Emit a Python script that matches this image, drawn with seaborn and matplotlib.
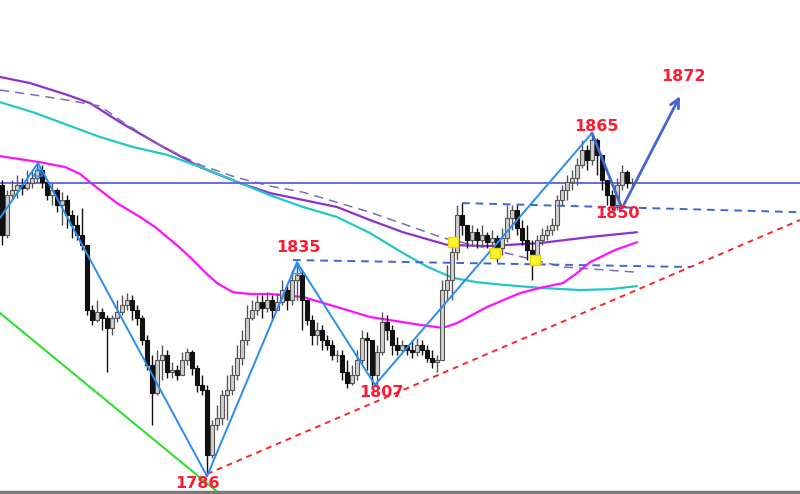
import numpy as np
import pandas as pd
import seaborn as sns
import matplotlib
matplotlib.use("Agg")
import matplotlib.pyplot as plt

# candle data (price), one candle per bar
first_open = 1853.0
closes = [1841.4, 1850.6, 1851.8, 1852.9, 1852.3, 1853.4, 1854.6, 1856.4, 1853.6, 1850.6,
          1851.8, 1848.3, 1849.5, 1846.0, 1843.8, 1841.4, 1839.2, 1824.2, 1821.9, 1823.7,
          1822.4, 1820.1, 1822.4, 1823.7, 1825.4, 1826.5, 1824.2, 1822.4, 1817.3, 1811.5,
          1805.1, 1812.7, 1813.8, 1809.9, 1810.4, 1809.3, 1812.7, 1814.5, 1810.9, 1807.0,
          1805.8, 1790.8, 1797.8, 1799.4, 1804.7, 1805.8, 1809.3, 1813.2, 1817.3, 1822.4,
          1824.2, 1826.0, 1824.7, 1826.5, 1824.2, 1826.0, 1828.8, 1826.5, 1831.1, 1832.3,
          1826.5, 1821.9, 1818.5, 1819.6, 1817.3, 1816.2, 1813.9, 1813.9, 1809.9, 1807.4,
          1809.3, 1812.7, 1817.8, 1817.3, 1809.3, 1814.5, 1821.4, 1819.6, 1816.2, 1815.0,
          1816.2, 1815.0, 1814.5, 1816.2, 1815.0, 1813.2, 1812.2, 1812.7, 1828.8, 1831.1,
          1837.5, 1846.0, 1843.8, 1840.3, 1842.1, 1840.3, 1841.4, 1839.8, 1840.8, 1838.5,
          1840.8, 1845.4, 1847.2, 1843.1, 1840.3, 1838.0, 1836.9, 1840.3, 1841.4, 1842.6,
          1843.8, 1849.5, 1851.8, 1853.6, 1854.6, 1857.5, 1861.0, 1858.7, 1863.3, 1859.9,
          1854.1, 1850.6, 1848.3, 1852.9, 1855.9, 1853.4, 1853.6]
highs = [1854.1, 1851.8, 1854.1, 1855.2, 1854.6, 1856.4, 1856.4, 1858.0, 1857.5, 1854.1,
         1853.4, 1852.3, 1851.3, 1850.6, 1847.2, 1846.0, 1847.7, 1839.1, 1825.4, 1826.5,
         1824.7, 1823.1, 1823.1, 1826.5, 1827.7, 1828.1, 1827.7, 1825.4, 1823.1, 1818.5,
         1813.9, 1815.0, 1816.2, 1815.0, 1812.2, 1811.5, 1814.5, 1815.5, 1815.0, 1811.5,
         1809.3, 1807.0, 1798.9, 1802.4, 1805.8, 1809.3, 1811.5, 1816.2, 1819.6, 1825.4,
         1826.5, 1827.7, 1827.7, 1828.3, 1827.7, 1828.1, 1831.1, 1829.9, 1833.4, 1835.2,
         1833.4, 1825.4, 1823.1, 1821.4, 1820.7, 1818.5, 1817.3, 1815.0, 1815.0, 1812.7,
         1811.5, 1815.0, 1819.6, 1819.1, 1817.3, 1816.2, 1823.7, 1823.1, 1820.7, 1818.0,
         1817.3, 1816.2, 1817.3, 1817.8, 1817.3, 1816.2, 1815.0, 1813.9, 1831.1, 1834.6,
         1840.3, 1848.3, 1848.8, 1843.8, 1843.8, 1843.1, 1843.8, 1842.1, 1842.6, 1841.4,
         1843.1, 1848.3, 1848.3, 1848.3, 1844.9, 1843.8, 1840.3, 1841.4, 1843.1, 1843.8,
         1845.4, 1850.6, 1853.0, 1855.3, 1856.4, 1859.2, 1863.3, 1862.1, 1864.4, 1863.8,
         1859.2, 1854.1, 1851.8, 1854.6, 1857.5, 1856.4, 1854.6]
lows = [1839.2, 1840.8, 1849.5, 1849.9, 1850.7, 1851.8, 1852.3, 1853.6, 1852.3, 1849.5,
        1848.3, 1846.7, 1843.8, 1843.1, 1840.8, 1840.3, 1838.0, 1823.1, 1820.7, 1821.4,
        1819.6, 1809.9, 1818.5, 1821.4, 1823.1, 1824.2, 1821.9, 1820.7, 1816.2, 1810.4,
        1797.8, 1804.7, 1808.1, 1808.6, 1808.6, 1808.1, 1809.3, 1811.5, 1809.3, 1805.3,
        1804.7, 1786.0, 1790.2, 1796.6, 1797.8, 1798.9, 1804.7, 1808.1, 1811.5, 1816.2,
        1821.9, 1823.1, 1822.4, 1823.7, 1821.9, 1824.2, 1825.4, 1824.2, 1825.4, 1826.5,
        1819.6, 1820.7, 1816.2, 1816.2, 1815.0, 1815.0, 1812.7, 1812.2, 1808.1, 1806.3,
        1807.0, 1808.1, 1811.5, 1810.4, 1807.0, 1806.5, 1813.9, 1817.3, 1813.9, 1813.9,
        1814.5, 1813.9, 1813.2, 1813.6, 1813.9, 1812.2, 1810.9, 1809.9, 1813.2, 1826.5,
        1826.5, 1835.7, 1841.4, 1838.5, 1839.1, 1838.5, 1839.1, 1838.5, 1838.9, 1835.2,
        1836.9, 1839.8, 1842.6, 1841.4, 1839.2, 1835.7, 1831.1, 1834.6, 1839.2, 1840.3,
        1841.4, 1842.6, 1848.3, 1849.5, 1851.8, 1852.9, 1856.9, 1856.4, 1857.5, 1855.2,
        1851.8, 1848.3, 1847.2, 1847.2, 1851.8, 1852.3, 1852.7]

# moving averages (bar index, price)
ma_purple_x = [-0.4, 5.6, 13, 17.6, 23.6, 31.6, 39.6, 47.6, 53.6, 67, 73.6, 80.2, 89, 97, 107.6, 117.6, 127]
ma_purple_y = [1877.8, 1876.4, 1873.7, 1871.8, 1867.4, 1862.1, 1857.1, 1853.4, 1851.1, 1847.9,
               1844.9, 1842.1, 1839.2, 1838.9, 1839.6, 1841.0, 1842.1]
ma_dash_x = [-0.4, 6.2, 13, 19.6, 24.2, 31.6, 39.6, 46.6, 53.6, 60.2, 73.6, 88.2, 100.2, 112.2, 127]
ma_dash_y = [1874.8, 1873.7, 1872.5, 1871.1, 1867.4, 1862.1, 1857.6, 1854.8, 1852.7, 1851.3,
             1846.7, 1840.8, 1837.5, 1834.1, 1832.9]
ma_cyan_x = [-0.4, 6.2, 13, 19.6, 26.2, 33, 39.6, 46.2, 53.6, 60.2, 67, 73.6, 80.2, 85, 90.2, 95,
             100.2, 107.6, 115.6, 121.6, 127]
ma_cyan_y = [1872.0, 1869.7, 1866.8, 1864.0, 1861.7, 1859.9, 1857.1, 1854.1, 1850.6, 1847.9,
             1845.6, 1841.9, 1837.3, 1834.2, 1831.6, 1830.6, 1830.0, 1829.3, 1828.8, 1829.0, 1829.7]
ma_mag_x = [-0.4, 7.6, 12.6, 15.6, 17.6, 20.6, 23, 27.6, 30.6, 33, 35.6, 38.2, 40.6, 43, 46.2,
            49.6, 53.6, 60.2, 67, 73.6, 83.6, 88.2, 91, 93.6, 97, 103.6, 107.6, 112.2, 115,
            117.6, 122.6, 127]
ma_mag_y = [1859.6, 1858.2, 1857.1, 1855.5, 1853.6, 1850.9, 1848.8, 1845.6, 1843.3, 1841.0,
            1838.5, 1835.7, 1832.9, 1830.4, 1828.3, 1827.9, 1827.9, 1827.2, 1824.9, 1822.6,
            1820.8, 1820.1, 1821.2, 1822.8, 1824.9, 1828.1, 1829.3, 1830.4, 1832.7, 1835.2,
            1838.0, 1839.8]

# drawn objects
zig_x = [-0.4, 7.2, 41, 59, 74.6, 118]
zig_y = [1845.4, 1858.0, 1786.0, 1835.2, 1807.0, 1864.9]
proj_x = [118, 124, 135.6]
proj_y = [1864.9, 1847.6, 1873.4]
hline_price = 1853.4
res1_x, res1_y = [92, 159.6], [1848.8, 1846.7]
res2_x, res2_y = [58.2, 137.6], [1835.7, 1834.1]
red_x, red_y = [41, 159.6], [1786.5, 1844.9]
green_x, green_y = [-0.4, 43.6], [1823.5, 1781.9]
flag_x = [90.2, 98.6, 106.6]
flag_y = [1839.8, 1837.3, 1835.7]
labels = ["1835", "1807", "1786", "1865", "1850", "1872"]
label_x = [59.2, 75.8, 39, 118.8, 123, 136.2]
label_y = [1838.5, 1805.3, 1784.4, 1866.3, 1846.3, 1878.0]

sns.set_style("white")
fig = plt.figure(figsize=(8, 4.94), dpi=100)
ax = fig.add_axes([0, 0, 1, 1])

opens = [first_open] + closes[:-1]
idx = np.arange(len(closes))
df = pd.DataFrame({"o": opens, "h": highs, "l": lows, "c": closes}, index=idx)
up = df[df.c >= df.o]
dn = df[df.c < df.o]
ax.vlines(up.index, up.l, up.h, color="#555555", lw=1, zorder=3)
ax.vlines(dn.index, dn.l, dn.h, color="#111111", lw=1, zorder=3)
ax.bar(up.index, up.c - up.o, bottom=up.o, width=0.62, color="#cfcfcf", edgecolor="#555555", lw=0.8, zorder=4)
ax.bar(dn.index, dn.o - dn.c, bottom=dn.c, width=0.62, color="#111111", edgecolor="#111111", lw=0.8, zorder=4)

sns.lineplot(x=ma_purple_x, y=ma_purple_y, ax=ax, color="#8e2fd0", lw=1.6, sort=False, zorder=2)
sns.lineplot(x=ma_dash_x, y=ma_dash_y, ax=ax, color="#7a6fb0", lw=1.1, sort=False, zorder=2,
             dashes=False, linestyle=(0, (6, 4)))
sns.lineplot(x=ma_cyan_x, y=ma_cyan_y, ax=ax, color="#22c8c8", lw=1.6, sort=False, zorder=2)
sns.lineplot(x=ma_mag_x, y=ma_mag_y, ax=ax, color="#ff10ff", lw=1.6, sort=False, zorder=2)

ax.axhline(hline_price, color="#5f5fe0", lw=1.3, zorder=2)
ax.axhline(1782.4, color="#7a7a7a", lw=2.5, zorder=6)
ax.plot(res1_x, res1_y, color="#3d66d6", lw=1.4, ls=(0, (4, 3)), zorder=5)
ax.plot(res2_x, res2_y, color="#3d66d6", lw=1.4, ls=(0, (4, 3)), zorder=5)
ax.plot(red_x, red_y, color="#ff2424", lw=1.4, ls=(0, (3, 2.5)), zorder=5)
ax.plot(green_x, green_y, color="#2ee02e", lw=1.5, zorder=5)
ax.plot(zig_x, zig_y, color="#2a8cf0", lw=1.4, zorder=6)
ax.plot(proj_x[:2], proj_y[:2], color="#4366d0", lw=2, zorder=6)
ax.annotate("", xy=(proj_x[2], proj_y[2]), xytext=(proj_x[1], proj_y[1]),
            arrowprops=dict(arrowstyle="->", color="#4366d0", lw=2, mutation_scale=16,
                            shrinkA=0, shrinkB=0), zorder=6)
ax.scatter([7.2, 59], [1856.0, 1833.6], marker="^", s=40, facecolors="none",
           edgecolors="#2a8cf0", lw=1, zorder=7)
ax.scatter(flag_x, flag_y, marker="s", s=45, color="#fff230", edgecolors="#e8d800", zorder=7)

for t, x, y in zip(labels, label_x, label_y):
    ax.text(x, y, t, color="#ff1a33", fontsize=11.5, fontweight="bold",
            ha="center", va="center", zorder=8)

ax.set_xlim(-0.4, 159.6)
ax.set_ylim(1781.9, 1895.5)
ax.axis("off")
fig.savefig("out.png", dpi=100, facecolor="white")
